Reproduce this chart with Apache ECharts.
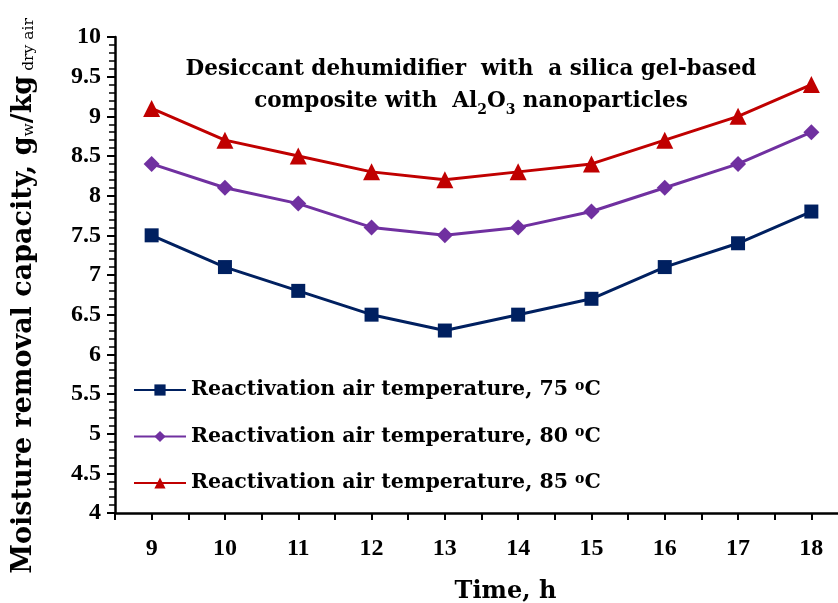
<!DOCTYPE html>
<html><head><meta charset="utf-8">
<script src="https://cdn.jsdelivr.net/npm/echarts@6/dist/echarts.min.js"></script>
<style>html,body{margin:0;padding:0;background:#fff}#c{width:838px;height:603px}</style>
</head><body><div id="c"></div>
<script>
const hours = [9, 10, 11, 12, 13, 14, 15, 16, 17, 18];
const t75 = [7.5, 7.1, 6.8, 6.5, 6.3, 6.5, 6.7, 7.1, 7.4, 7.8];
const t80 = [8.4, 8.1, 7.9, 7.6, 7.5, 7.6, 7.8, 8.1, 8.4, 8.8];
const t85 = [9.1, 8.7, 8.5, 8.3, 8.2, 8.3, 8.4, 8.7, 9.0, 9.4];
const names = ['Reactivation air temperature, 75', 'Reactivation air temperature, 80', 'Reactivation air temperature, 85'];
const F = '"Liberation Serif", "Times New Roman", serif';
const W = '"DejaVu Serif", serif';
const pairs = v => hours.map((h, i) => [h, v[i]]);
const chart = echarts.init(document.getElementById('c'), null, {renderer: 'canvas'});
chart.setOption({
  animation: false,
  backgroundColor: '#fff',
  title: {
    text: '{a|Desiccant dehumidifier  with  a silica gel-based}\n{a|composite with  Al}{s|2}{a|O}{s|3}{a| nanoparticles}',
    left: 466, top: 48, textAlign: 'center',
    textStyle: {
      rich: {
        a: {fontFamily: W, fontWeight: 'bold', fontSize: 21.5, color: '#000', lineHeight: 32},
        s: {fontFamily: W, fontWeight: 'bold', fontSize: 14, color: '#000', verticalAlign: 'bottom', padding: [8, 0, 0, 0], lineHeight: 32}
      }
    }
  },
  legend: {
    orient: 'vertical', left: 128, top: 374, itemGap: 25, itemWidth: 52, itemHeight: 14,
    data: names,
    formatter: n => '{t|' + n + ' }{o|o}{t|C}',
    textStyle: {
      rich: {
        t: {fontFamily: W, fontWeight: 'bold', fontSize: 20.5, color: '#000'},
        o: {fontFamily: W, fontWeight: 'bold', fontSize: 14, color: '#000', verticalAlign: 'top', padding: [0, 0, 8, 0]}
      }
    }
  },
  grid: {left: 115, top: 37, right: -10, bottom: 90, containLabel: false, outerBoundsMode: 'none'},
  xAxis: {
    type: 'value', min: 8.5, max: 18.5, interval: 0.5,
    name: 'Time, h', nameLocation: 'middle', nameGap: 67,
    nameTextStyle: {fontFamily: W, fontWeight: 'bold', fontSize: 24, color: '#000', padding: [0, 0, 0, 48]},
    axisLine: {onZero: false, lineStyle: {color: '#000', width: 2.5}},
    axisTick: {show: true, length: 7, lineStyle: {color: '#000', width: 2}},
    axisLabel: {fontFamily: F, fontWeight: 'bold', fontSize: 24, color: '#000', margin: 24,
      formatter: v => (Math.abs(v - Math.round(v)) < 1e-6 ? String(Math.round(v)) : '')},
    splitLine: {show: false}
  },
  yAxis: {
    type: 'value', min: 4, max: 10, interval: 0.5,
    name: '{a|Moisture removal capacity, g}{s|w}{a|/kg}{s| dry air}',
    nameLocation: 'middle', nameGap: 78, nameRotate: 90,
    nameTextStyle: {
      padding: [0, 42, 0, 0],
      rich: {
        a: {fontFamily: W, fontWeight: 'bold', fontSize: 27, color: '#000'},
        s: {fontFamily: W, fontWeight: 'normal', fontSize: 15.5, color: '#000', verticalAlign: 'bottom', padding: [10, 0, 0, 0]}
      }
    },
    axisLine: {show: true, lineStyle: {color: '#000', width: 2.5}},
    axisTick: {show: true, length: 8, lineStyle: {color: '#000', width: 2}},
    minorTick: {show: true, splitNumber: 5, length: 6, lineStyle: {color: '#000', width: 1.5}},
    axisLabel: {fontFamily: F, fontWeight: 'bold', fontSize: 24, color: '#000', margin: 14},
    splitLine: {show: false}
  },
  series: [
    {name: names[0], type: 'line', data: pairs(t75), symbol: 'rect', symbolSize: 14,
     lineStyle: {color: '#002060', width: 3}, itemStyle: {color: '#002060'}},
    {name: names[1], type: 'line', data: pairs(t80), symbol: 'diamond', symbolSize: 16,
     lineStyle: {color: '#7030A0', width: 3}, itemStyle: {color: '#7030A0'}},
    {name: names[2], type: 'line', data: pairs(t85), symbol: 'triangle', symbolSize: 17,
     lineStyle: {color: '#C00000', width: 3}, itemStyle: {color: '#C00000'}}
  ]
});
</script></body></html>
